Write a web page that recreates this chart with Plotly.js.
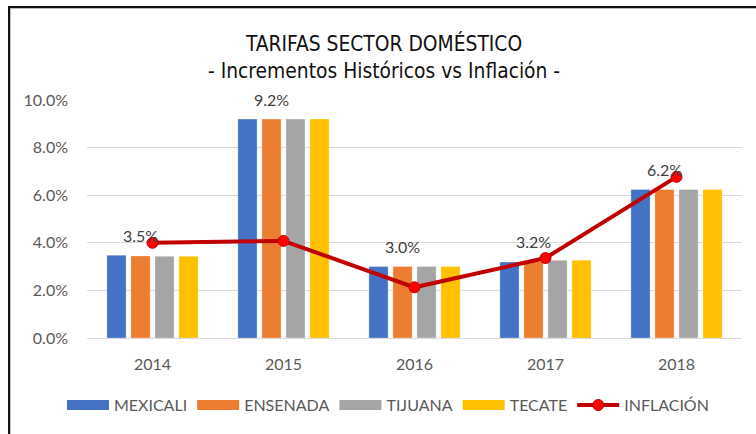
<!DOCTYPE html>
<html>
<head>
<meta charset="utf-8">
<script src="https://cdn.plot.ly/plotly-3.0.1.min.js"></script>
<style>
  html, body { margin: 0; padding: 0; background: #fff; }
  #chart { width: 756px; height: 434px; position: absolute; left: 0; top: 0; }
  #frame { position: absolute; left: 8px; top: 6px; width: 760px; height: 440px;
           border-top: 2px solid #111; border-left: 2px solid #111; pointer-events: none;
           box-shadow: inset 1px 1px 0 #bbb; }
</style>
</head>
<body>
<div id="chart"></div>
<div id="frame"></div>
<script>
const years = ['2014', '2015', '2016', '2017', '2018'];
const mexicali = [3.48, 9.2, 3.0, 3.19, 6.24];
const ensenada = [3.45, 9.2, 3.0, 3.22, 6.24];
const tijuana  = [3.43, 9.2, 3.0, 3.27, 6.24];
const tecate   = [3.43, 9.2, 3.0, 3.27, 6.24];
const inflacion = [4.0, 4.08, 2.13, 3.36, 6.77];
const yTicks = [0, 2, 4, 6, 8, 10];
const yTickLabels = yTicks.map(v => v.toFixed(1) + '%');

const seriesNames = ['MEXICALI', 'ENSENADA', 'TIJUANA', 'TECATE'];
const seriesData = [mexicali, ensenada, tijuana, tecate];
const seriesColors = ['#4472C4', '#ED7D31', '#A5A5A5', '#FFC000'];

const traces = [];
// legend-only swatches (wide rectangles like the original); no data drawn
seriesNames.forEach((n, i) => {
  traces.push({
    type: 'scatter', mode: 'lines', x: years, y: years.map(() => null), name: n,
    line: { color: seriesColors[i], width: 10 }, hoverinfo: 'skip'
  });
});
seriesNames.forEach((n, i) => {
  traces.push({
    type: 'bar', x: years, y: seriesData[i], name: n, showlegend: false,
    marker: { color: seriesColors[i], line: { color: 'rgba(255,255,255,0.6)', width: 0.5 } }
  });
});
traces.push({
  type: 'scatter', mode: 'lines+markers', x: years, y: inflacion, name: 'INFLACIÓN',
  line: { color: '#C00000', width: 4 },
  marker: { size: 11, color: '#FF0000', line: { color: '#C00000', width: 1 } }
});

// data labels above the ENSENADA bars (category index used as x position)
const annotations = years.map((yr, i) => ({
  x: i, y: ensenada[i], xref: 'x', yref: 'y',
  text: ensenada[i].toFixed(1) + '%', showarrow: false,
  xshift: -12, yshift: 20,
  font: { family: 'Lato, sans-serif', size: 16, color: '#404040' }
}));

const layout = {
  width: 756, height: 434,
  margin: { l: 87, r: 14, t: 100, b: 93 },
  paper_bgcolor: '#fff', plot_bgcolor: '#fff',
  font: { family: 'Lato, sans-serif', size: 16, color: '#595959' },
  title: {
    text: 'TARIFAS SECTOR DOMÉSTICO<br>- Incrementos Históricos vs Inflación -',
    font: { family: '"DejaVu Sans Condensed", "DejaVu Sans", sans-serif', size: 20.8, color: '#111' },
    x: 0.508, xref: 'container', xanchor: 'center',
    y: 0.882, yref: 'container', yanchor: 'top'
  },
  barmode: 'group', bargap: 0.267, bargroupgap: 0.2,
  xaxis: {
    type: 'category', categoryorder: 'array', categoryarray: years,
    showgrid: false, showline: false, zeroline: false,
    ticks: '', ticklabelstandoff: 15,
    tickfont: { size: 16, color: '#595959' }
  },
  yaxis: {
    range: [0, 10], tickmode: 'array', tickvals: yTicks, ticktext: yTickLabels,
    showgrid: true, gridcolor: '#D9D9D9', gridwidth: 1,
    zeroline: true, zerolinecolor: '#D9D9D9', zerolinewidth: 1,
    showline: false, ticks: '', ticklabelstandoff: 18,
    tickfont: { size: 16, color: '#595959' }
  },
  showlegend: true,
  legend: {
    orientation: 'h', x: 0.4595, xanchor: 'center', y: -0.282, yanchor: 'middle',
    itemwidth: 42, traceorder: 'normal',
    font: { family: 'Lato, sans-serif', size: 16, color: '#595959' }
  },
  annotations: annotations
};

Plotly.newPlot('chart', traces, layout, { displayModeBar: false, staticPlot: true });
</script>
</body>
</html>
